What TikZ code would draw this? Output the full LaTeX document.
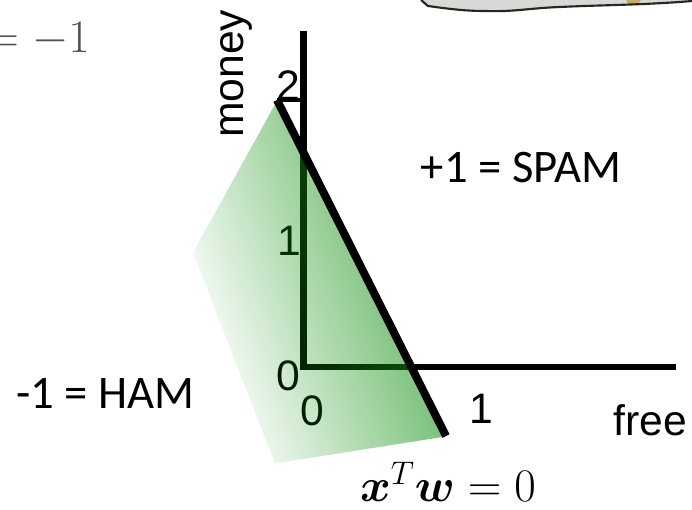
\RequirePackage{fix-cm}
\documentclass[tikz,border=0pt]{standalone}
\usepackage{amsmath,bm}
\usepackage{fontspec}
\setmainfont{Liberation Sans}
\newfontfamily\calibri{Carlito}
\usepackage{tikz}
\usetikzlibrary{fadings,positioning}

\definecolor{hamgreen}{RGB}{20,145,20}
\definecolor{bubblegray}{RGB}{216,216,214}
\definecolor{bubbleink}{RGB}{40,38,30}
\definecolor{tanpatch}{RGB}{200,170,110}
\definecolor{inkgray}{RGB}{80,80,92}
\tikzfading[name=fadetoline, left color=transparent!100, right color=transparent!25]

\begin{document}
\begin{tikzpicture}[x=0.75pt,y=-0.75pt,
    ticklbl/.style={inner sep=0pt, anchor=base, font=\fontsize{32}{36}\selectfont},
    classlbl/.style={inner sep=0pt, anchor=base, font=\calibri\fontsize{35}{40}\selectfont},
    mathlbl/.style={inner sep=0pt, anchor=base, font=\fontsize{35}{40}\selectfont},
    axisline/.style={line width=5.2pt, miter limit=10}]
    \useasboundingbox (0,0) rectangle (692,510);

    % corner of the cartoon bubble
    \fill[bubblegray] (421,0) -- (428,6) .. controls (450,9) and (465,11) .. (485,11)
        .. controls (515,12) and (530,8) .. (560,7)
        .. controls (600,5) and (645,5) .. (692,1) -- (692,0) -- cycle;
    \fill[tanpatch] (626,0) -- (641,0) -- (638,4) -- (628,4) -- cycle;
    \draw[bubbleink, line width=1.6pt] (421,0) -- (428,6) .. controls (450,9) and (465,11) .. (485,11)
        .. controls (515,12) and (530,8) .. (560,7)
        .. controls (600,5) and (645,5) .. (692,1);

    \coordinate (ytop) at (303.5,31);
    \coordinate (orig) at (303.5,367);
    \coordinate (xend) at (676,367);
    \coordinate (tick2) at (303.5,100);
    \coordinate (bndtop) at (277,100);
    \coordinate (bndbot) at (446,436);
    \coordinate (fadebot) at (275,463);
    \coordinate (fadeleft) at (193,252);

    % axes
    \draw[axisline] (ytop) -- (orig) -- (xend);

    \node[ticklbl, rotate=90, anchor=base west] (moneylbl) at (243,138) {money};
    \node[ticklbl] (ylbl2) at (288,100) {2};
    \node[ticklbl] (ylbl1) at (289,255) {1};
    \node[ticklbl] (ylbl0) at (288,390) {0};
    \node[ticklbl] (xlbl0) at (312,425) {0};
    \node[ticklbl] (xlbl1) at (481,423) {1};
    \node[ticklbl] (freelbl) at (650,435) {free};

    % ham side
    \fill[hamgreen, path fading=fadetoline, fading angle=27]
        (bndtop) -- (bndbot) -- (fadebot) -- (fadeleft) -- cycle;

    \draw[line width=3pt] (bndtop) -- (tick2);
    \draw[line width=6pt] (bndtop) -- (bndbot);

    \node[classlbl] (spamlbl) at (521,182) {+1 = SPAM};
    \node[classlbl, anchor=base east] (hamlbl) at (195,408) {-1 = HAM};

    \node[mathlbl] (bndeq) at (448,501) {$\bm{x}^T\bm{w} = 0$};
    \node[mathlbl, anchor=base east, text=inkgray] (labeleq) at (90,53) {$= -1$};
\end{tikzpicture}
\end{document}
